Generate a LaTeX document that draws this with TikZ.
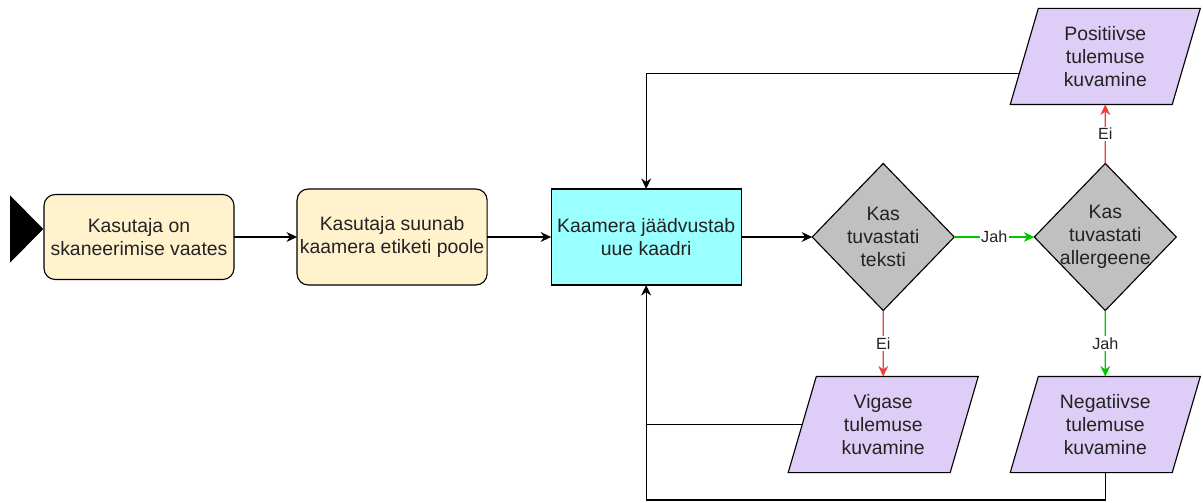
\documentclass[tikz,border=0pt]{standalone}
\usepackage{fontspec}
\setmainfont{Liberation Sans}
\usetikzlibrary{shapes.geometric, arrows.meta, positioning, calc}

\definecolor{userfill}{RGB}{255,242,204}
\definecolor{camfill}{RGB}{153,255,255}
\definecolor{askfill}{RGB}{192,192,192}
\definecolor{showfill}{RGB}{222,205,246}
\definecolor{txt}{RGB}{35,35,35}
\definecolor{yesgreen}{RGB}{0,200,0}
\definecolor{nored}{RGB}{240,60,60}

\begin{document}
\begin{tikzpicture}[x=0.025cm, y=-0.025cm, node distance=1.6cm, >={Stealth[length=7.5pt, width=7pt]}, font=\fontsize{13.8}{16.3}\selectfont]
        % Style definitions
        \tikzstyle{userbox} = [draw, fill=userfill, rectangle, rounded corners=8pt, minimum width=4.75cm, inner sep=2pt, outer sep=0pt, align=center, text=txt, line width=0.8pt]
        \tikzstyle{cambox} = [draw, fill=camfill, rectangle, minimum width=4.75cm, minimum height=2.4cm, inner sep=2pt, outer sep=0pt, align=center, text=txt, line width=0.8pt]
        \tikzstyle{decision} = [draw, fill=askfill, diamond, minimum width=3.55cm, minimum height=3.675cm, inner sep=-6pt, outer sep=0pt, align=center, text=txt, line width=0.8pt]
        \tikzstyle{showbox} = [draw, fill=showfill, trapezium, trapezium left angle=68, trapezium right angle=112, trapezium stretches body=true, minimum width=4.75cm, minimum height=2.4cm, outer sep=0pt, align=center, text=txt, line width=0.8pt]
        \tikzstyle{line} = [->, line width=0.8pt]
        \tikzstyle{yesline} = [->, line width=0.8pt, yesgreen]
        \tikzstyle{noline} = [->, line width=0.8pt, nored]
        \tikzstyle{answer} = [fill=white, inner sep=1pt, text=txt, font=\fontsize{11.5}{13}\selectfont]

        \useasboundingbox (0,0) rectangle (1203,503);

        % Nodes
        \node [userbox, minimum height=2.125cm] (view) at (139,237) {Kasutaja on\\ skaneerimise vaates};
        \node [isosceles triangle, isosceles triangle stretches, fill=black, minimum width=1.675cm, minimum height=0.825cm, inner sep=0, left=0pt of view, yshift=0.2cm] (start) {};
        \node [userbox, minimum height=2.4cm, right=1.575cm of view] (aim) {Kasutaja suunab\\ kaamera etiketi poole};
        \node [cambox, right=1.6cm of aim] (capture) {Kaamera jäädvustab\\ uue kaadri};
        \node [decision, right=1.775cm of capture] (hastext) {Kas\\ tuvastati\\ teksti};
        \node [decision, right=2cm of hastext] (hasallerg) {Kas\\ tuvastati\\ allergeene};
        \node [showbox, above=1.475cm of hasallerg] (positive) {Positiivse\\ tulemuse\\ kuvamine};
        \node [showbox, below=1.65cm of hastext] (faulty) {Vigase\\ tulemuse\\ kuvamine};
        \node [showbox, below=1.65cm of hasallerg] (negative) {Negatiivse\\ tulemuse\\ kuvamine};
        \coordinate (loop) at (capture.south |- 0,500);

        % Arrows
        \draw [line] (view) -- (aim);
        \draw [line] (aim) -- (capture);
        \draw [line] (capture) -- (hastext);
        \draw [yesline] (hastext) -- node[answer] {Jah} (hasallerg);
        \draw [noline] (hastext) -- node[answer] {Ei} (faulty);
        \draw [noline] (hasallerg) -- node[answer] {Ei} (positive);
        \draw [yesline] (hasallerg) -- node[answer] {Jah} (negative);

        % Back to the camera
        \draw [line] ($(positive.top left corner)!0.68!(positive.bottom left corner)$) -| (capture);
        \draw [line width=0.8pt] (faulty.left side) -- (faulty.left side -| capture.south);
        \draw [line] (negative.south) |- (loop) -- (capture);
    \end{tikzpicture}
\end{document}
